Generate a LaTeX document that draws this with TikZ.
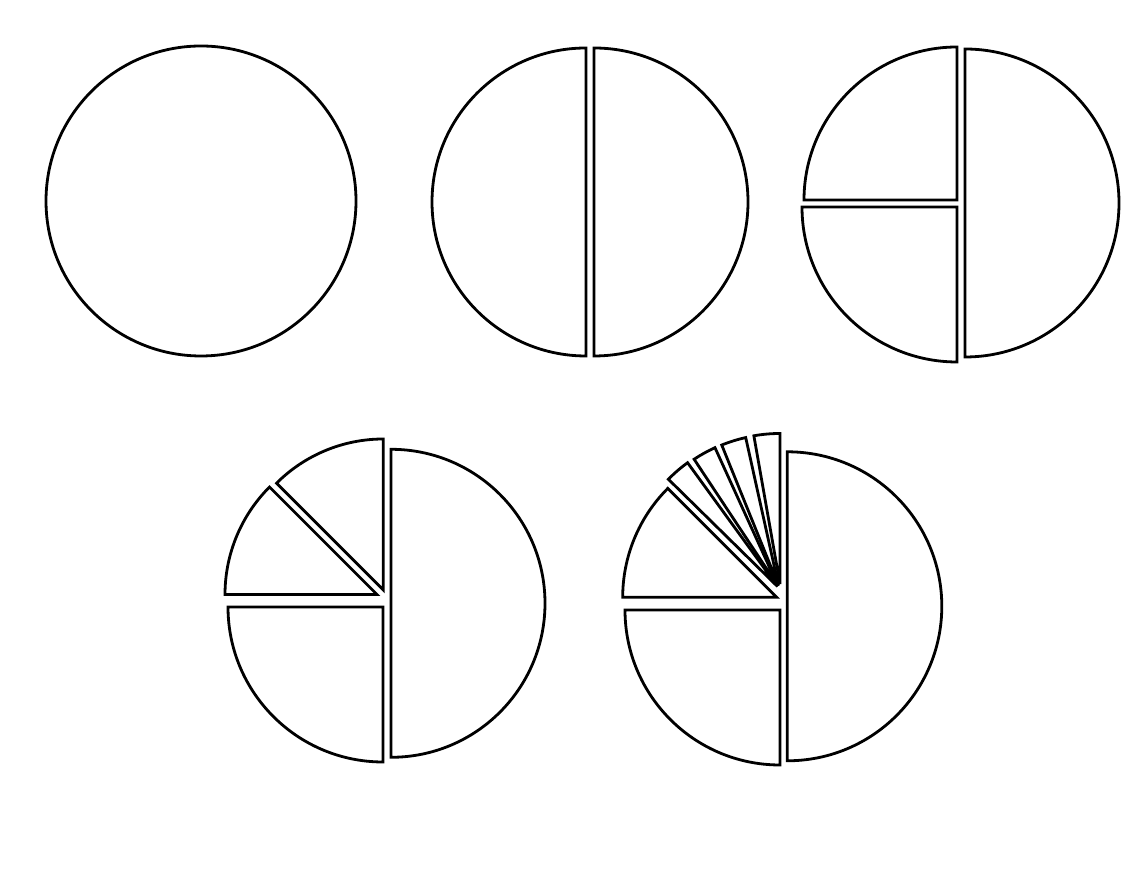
\documentclass[tikz,border=0pt]{standalone}
\begin{document}
\begin{tikzpicture}[x=1pt,y=1pt,
  slice/.style={draw=black,fill=white,line width=2.8pt,line join=miter}]
\useasboundingbox (0,0) rectangle (1129,885);
\fill[white] (0,0) rectangle (1129,885);
% sector: apex x, apex y, start, end, radius
\newcommand{\sector}[5]{\path[slice] (#1,#2) -- ++(#3:#5) arc[start angle=#3, end angle=#4, radius=#5] -- cycle;}
% Pie 1
\draw[slice] (201,684) circle[radius=155];
% Pie 2
\sector{586}{683}{90}{270}{154}
\sector{594}{683}{-90}{90}{154}
% Pie 3
\sector{957}{685}{90}{180}{153}
\sector{957}{678}{180}{270}{155}
\sector{965}{682}{-90}{90}{154}
% Pie 4
\sector{391}{281.7}{-90}{90}{154}
\sector{383}{278}{180}{270}{155}
\sector{383.3}{295}{90}{135}{151}
\sector{377}{290.5}{135}{180}{152}
% Pie 5
\sector{787.3}{278.7}{-90}{90}{154.5}
\sector{780}{275}{180}{270}{155}
\sector{776.7}{287.7}{135}{180}{154}
\sector{780}{301}{90}{100}{150.5}
\sector{778.5}{299.5}{102.5}{112}{151.5}
\sector{778}{299}{114.5}{123.5}{152}
\sector{777.5}{298.5}{126}{135.5}{153}
\end{tikzpicture}
\end{document}
